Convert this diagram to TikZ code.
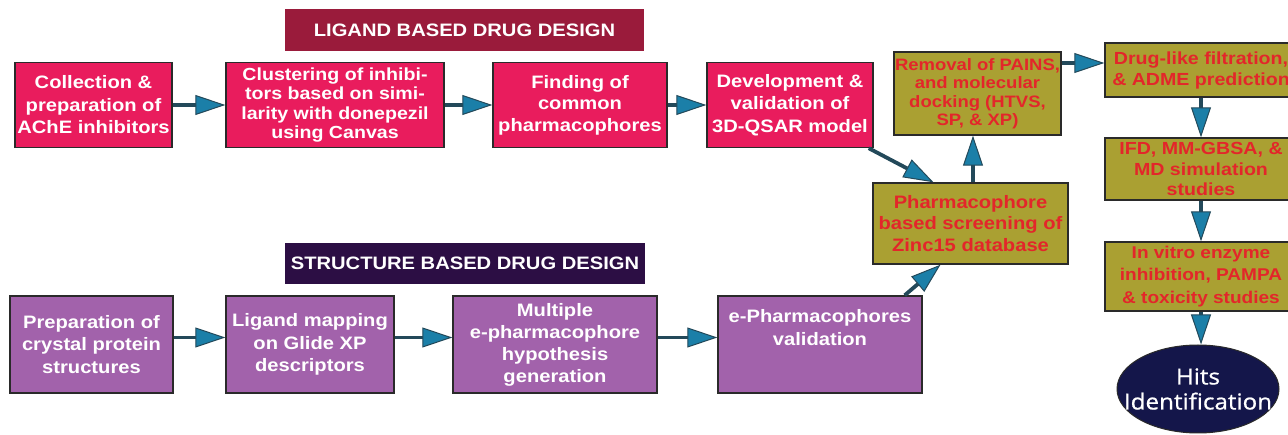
\documentclass[tikz,border=0pt]{standalone}
\usepackage{fontspec}
\setmainfont{Liberation Sans}[FakeStretch=1.12]
\newfontfamily\hitsfont{Open Sans}[FakeStretch=1.10,FakeBold=0.8]
\usetikzlibrary{arrows.meta,shapes.geometric}
\definecolor{pinkc}{HTML}{E91C5D}
\definecolor{purplec}{HTML}{A262AB}
\definecolor{olivec}{HTML}{AAA032}
\definecolor{olivetext}{HTML}{E3262A}
\definecolor{ltitle}{HTML}{9A1B3B}
\definecolor{stitle}{HTML}{2C0E44}
\definecolor{hitsc}{HTML}{14164A}
\definecolor{boxline}{HTML}{2A2A2A}
\definecolor{shaft}{HTML}{23495A}
\definecolor{headblue}{HTML}{1B7FA8}
\tikzset{
  basebox/.style={draw=boxline, line width=1.4pt, align=center, inner sep=0pt, rectangle},
  pinkbox/.style={basebox, fill=pinkc, text=white},
  purplebox/.style={basebox, fill=purplec, text=white},
  olivebox/.style={basebox, fill=olivec, text=olivetext},
  titlebox/.style={rectangle, inner sep=0pt, text=white, font=\bfseries\fontsize{18}{20}\selectfont},
  arr/.style={draw=shaft, line width=3.8pt, -{Triangle[length=30pt,width=20pt,fill=headblue,line width=1pt]}}
}
\newcommand{\bx}[2]{\bfseries\fontsize{#1}{#2}\selectfont}
\begin{document}
\begin{tikzpicture}[x=1pt,y=-1pt]
\useasboundingbox (0,0) rectangle (1288,435);
\fill[white] (0,0) rectangle (1288,435);

% titles
\node[titlebox, fill=ltitle, minimum width=359pt, minimum height=42pt] (lt) at (464.5,30) {LIGAND BASED DRUG DESIGN};
\node[titlebox, fill=stitle, minimum width=360pt, minimum height=41pt] (st) at (465,263.5) {STRUCTURE BASED DRUG DESIGN};

% ligand row
\node[pinkbox, minimum width=157pt, minimum height=85pt, font=\bx{18}{22.5}] (l1) at (93.5,105) {Collection \&\\preparation of\\AChE inhibitors};
\node[pinkbox, minimum width=218pt, minimum height=85pt, font=\bx{17.5}{19.5}] (l2) at (335,105) {Clustering of inhibi-\\tors based on simi-\\larity with donepezil\\using Canvas};
\node[pinkbox, minimum width=174pt, minimum height=85pt, font=\bx{18}{21.5}] (l3) at (580,105) {Finding of\\common\\pharmacophores};
\node[pinkbox, minimum width=166pt, minimum height=85pt, font=\bx{18}{22.5}] (l4) at (790,105) {Development \&\\validation of\\3D-QSAR model};

% structure row
\node[purplebox, minimum width=163pt, minimum height=97pt, font=\bx{18}{22.5}] (s1) at (91.5,344.5) {Preparation of\\crystal protein\\structures};
\node[purplebox, minimum width=168pt, minimum height=97pt, font=\bx{18}{22.5}] (s2) at (310,344.5) {Ligand mapping\\on Glide XP\\descriptors};
\node[purplebox, minimum width=204pt, minimum height=97pt, font=\bx{18}{22}] (s3) at (555,344.5) {Multiple\\e-pharmacophore\\hypothesis\\generation};
\node[purplebox, minimum width=204pt, minimum height=97pt, font=\bx{18}{22.5}] (s4) at (820,344.5) {e-Pharmacophores\\validation\\[12pt]};

% olive
\node[olivebox, minimum width=195pt, minimum height=81pt, font=\bx{18}{21.5}] (ph) at (970.5,223.5) {Pharmacophore\\based screening of\\Zinc15 database};
\node[olivebox, minimum width=167pt, minimum height=83pt, font=\bx{16.5}{18.5}] (rm) at (977.5,93.5) {Removal of PAINS,\\and molecular\\docking (HTVS,\\SP, \& XP)};
\node[olivebox, minimum width=192pt, minimum height=54pt, font=\bx{17.5}{21}] (dl) at (1201,70) {Drug-like filtration,\\\& ADME prediction};
\node[olivebox, minimum width=192pt, minimum height=62pt, font=\bx{17.5}{20.5}] (ifd) at (1201,169) {IFD, MM-GBSA, \&\\MD simulation\\studies};
\node[olivebox, minimum width=192pt, minimum height=69pt, font=\bx{17}{22.5}] (iv) at (1201,276.5) {In vitro enzyme\\inhibition, PAMPA\\\& toxicity studies};
\node[ellipse, draw=boxline, line width=1pt, fill=hitsc, inner sep=0pt, minimum width=162pt, minimum height=88pt] (hits) at (1198,389) {};
\node[text=white, align=center, inner sep=0pt, font=\hitsfont\fontsize{22}{25}\selectfont] (hitstext) at (hits.center) {Hits\\Identification};

% arrows ligand row
\draw[arr] (l1.east) -- (l2.west);
\draw[arr] (l2.east) -- (l3.west);
\draw[arr] (l3.east) -- (l4.west);
% arrows structure row
\draw[arr] ([yshift=7pt]s1.east) -- ([yshift=7pt]s2.west);
\draw[arr] ([yshift=7pt]s2.east) -- ([yshift=7pt]s3.west);
\draw[arr] ([yshift=7pt]s3.east) -- ([yshift=7pt]s4.west);
% to screening
\draw[arr] ([xshift=-5pt]l4.south east) -- ([xshift=-37pt]ph.north);
\draw[arr] ([xshift=-18pt]s4.north east) -- ([xshift=-30pt]ph.south);
\coordinate (p1) at ([xshift=2.5pt]ph.north);
\draw[arr] (p1) -- (p1 |- rm.south);
\coordinate (p2) at ([yshift=7pt]dl.west);
\draw[arr] (rm.east |- p2) -- (p2);
\draw[arr] (dl.south) -- (ifd.north);
\draw[arr] (ifd.south) -- (iv.north);
\draw[arr] (iv.south) -- (iv.south |- hits.north);
\end{tikzpicture}
\end{document}
